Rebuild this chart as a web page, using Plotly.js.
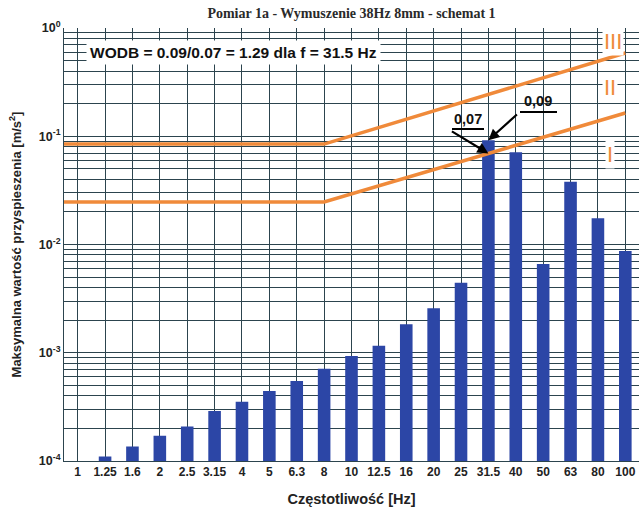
<!DOCTYPE html>
<html>
<head>
<meta charset="utf-8">
<script src="https://cdn.plot.ly/plotly-3.0.1.min.js"></script>
<style>
  html, body { margin: 0; padding: 0; background: #ffffff; }
  #chart { width: 639px; height: 509px; }
</style>
</head>
<body>
<div id="chart"></div>
<script>
// ---- data ----
const categories = ['1','1.25','1.6','2','2.5','3.15','4','5','6.3','8','10','12.5','16','20','25','31.5','40','50','63','80','100'];
const values = [null, 1.10e-4, 1.36e-4, 1.71e-4, 2.08e-4, 2.90e-4, 3.53e-4, 4.44e-4, 5.48e-4, 7.13e-4, 9.33e-4, 1.16e-3, 1.83e-3, 2.58e-3, 4.43e-3, 0.092, 0.0711, 6.6e-3, 0.0380, 0.0175, 8.7e-3];
const limitFreqs = ['8', '100'];
const zoneI = [0.0247, 0.164];
const zoneII = [0.0847, 0.587];
const zoneLabels = ['I', 'II', 'III'];
const yTickVals = [1e-4, 1e-3, 1e-2, 1e-1, 1];
const yTickText = ['10<sup>-4</sup>', '10<sup>-3</sup>', '10<sup>-2</sup>', '10<sup>-1</sup>', '10<sup>0</sup>'];
const measuredLabel = '0,09';
const limitLabel = '0,07';
const wodbText = 'WODB = 0.09/0.07 = 1.29 dla f = 31.5 Hz';
const focusFreq = '31.5';

// ---- helpers ----
const xIdx = categories.map((c, i) => i);
const xRange = [-0.5, categories.length - 0.5];
const idx = f => categories.indexOf(f);
function limitLine(arr) {
  return {
    x: [xRange[0], idx(limitFreqs[0]), idx(limitFreqs[1])],
    y: [arr[0], arr[0], arr[1]],
    type: 'scatter', mode: 'lines',
    line: { color: '#f08a3a', width: 3.5 },
    hoverinfo: 'skip', showlegend: false
  };
}
function limitAt(arr, i) {
  const i0 = idx(limitFreqs[0]), i1 = idx(limitFreqs[1]);
  if (i <= i0) return arr[0];
  const t = (i - i0) / (i1 - i0);
  return Math.pow(10, Math.log10(arr[0]) + t * (Math.log10(arr[1]) - Math.log10(arr[0])));
}
// pixel -> paper helpers for decorative text placement
const PL = 64, PW = 575, PB = 461, PH = 433;
const px = v => (v - PL) / PW;
const py = v => (PB - v) / PH;

const fi = idx(focusFreq);
const gridDark = '#2c444e';
const font = 'Liberation Sans, Arial, sans-serif';
const orange = '#ef8a3a';

const traces = [
  {
    x: xIdx, y: values, type: 'bar',
    marker: { color: '#2c46a6' },
    hoverinfo: 'x+y', showlegend: false
  },
  limitLine(zoneI),
  limitLine(zoneII)
];

function paperText(text, x, y, size, color, bg) {
  const a = {
    text: text, xref: 'paper', yref: 'paper', x: px(x), y: py(y),
    xanchor: 'center', yanchor: 'middle', showarrow: false,
    font: { family: font, size: size, color: color }
  };
  if (bg) { a.bgcolor = '#ffffff'; a.borderpad = bg; }
  return a;
}

const layout = {
  width: 639, height: 509,
  margin: { l: PL, r: 0, t: 28, b: 48 },
  paper_bgcolor: '#ffffff', plot_bgcolor: '#ffffff',
  bargap: 0.54,
  showlegend: false,
  title: {
    text: '<b>Pomiar 1a - Wymuszenie 38Hz 8mm - schemat 1</b>',
    font: { family: 'Liberation Serif, Times New Roman, serif', size: 14, color: '#2a2a2a' },
    x: 0.5, xref: 'paper', y: 1 - 13 / 509, yref: 'container', yanchor: 'middle'
  },
  xaxis: {
    type: 'linear', range: xRange,
    tickvals: xIdx, ticktext: categories.map(c => '<b>' + c + '</b>'),
    tickfont: { family: font, size: 12, color: '#222' },
    showgrid: true, gridcolor: gridDark, gridwidth: 1,
    zeroline: false, showline: true, linecolor: gridDark, linewidth: 1,
    ticks: '', fixedrange: true,
    title: { text: '<b>Częstotliwość [Hz]</b>', font: { family: font, size: 14.5, color: '#222' }, standoff: 15 }
  },
  yaxis: {
    type: 'log', range: [-4, 0],
    tickvals: yTickVals, ticktext: yTickText.map(t => '<b>' + t + '</b>'),
    tickfont: { family: font, size: 12.5, color: '#222' },
    showgrid: true, gridcolor: gridDark, gridwidth: 1,
    minor: { dtick: 'D1', showgrid: true, gridcolor: gridDark, gridwidth: 1, ticks: '' },
    zeroline: false, showline: true, linecolor: gridDark, linewidth: 1,
    ticks: '', fixedrange: true,
    title: { text: '<b>Maksymalna wartość przyspieszenia [m/s<sup>2</sup>]</b>', font: { family: font, size: 13, color: '#222' }, standoff: 14 }
  },
  shapes: [
    { type: 'line', xref: 'paper', yref: 'paper', x0: px(452), x1: px(484), y0: py(129), y1: py(129), line: { color: '#000', width: 2 } },
    { type: 'line', xref: 'paper', yref: 'paper', x0: px(520), x1: px(557), y0: py(112), y1: py(112), line: { color: '#000', width: 2 } }
  ],
  annotations: [
    paperText('<b>' + wodbText + '</b>', 233, 52, 15.5, '#111', 3),
    paperText(zoneLabels[2], 612.5, 41.5, 22, orange, 1),
    paperText(zoneLabels[1], 610, 87.5, 22, orange, 1),
    paperText(zoneLabels[0], 610, 154.5, 22, orange, 1),
    paperText('<b>' + limitLabel + '</b>', 468, 119, 14.5, '#111'),
    paperText('<b>' + measuredLabel + '</b>', 538, 101, 14.5, '#111'),
    {
      text: '', x: fi, y: Math.log10(values[fi]), xref: 'x', yref: 'y',
      showarrow: true, arrowhead: 2, arrowsize: 1, arrowwidth: 2.2, arrowcolor: '#000',
      ax: 30, ay: -27, standoff: 0
    },
    {
      text: '', x: fi, y: Math.log10(limitAt(zoneI, fi)), xref: 'x', yref: 'y',
      showarrow: true, arrowhead: 2, arrowsize: 1, arrowwidth: 2.2, arrowcolor: '#000',
      ax: -38, ay: -23, standoff: 0
    }
  ]
};

Plotly.newPlot('chart', traces, layout, { staticPlot: true, displayModeBar: false });
</script>
</body>
</html>
